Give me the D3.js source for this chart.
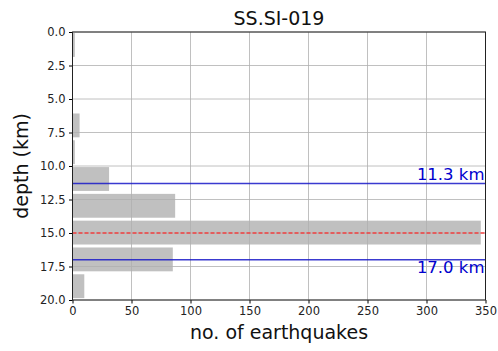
<!DOCTYPE html>
<html>
<head>
<meta charset="utf-8">
<script src="https://cdn.jsdelivr.net/npm/d3@7"></script>
<style>
  body { margin: 0; background: #fff; }
  svg { display: block; font-family: "DejaVu Sans", sans-serif; }
</style>
</head>
<body>
<div id="chart"></div>
<script>
// depth histogram, 2 km bins
const binStarts = [0, 2, 4, 6, 8, 10, 12, 14, 16, 18];
const counts = [2, 0, 0, 6, 2, 31, 87, 346, 85, 10];
const binWidth = 2;

const meanDepth = 15.0;
const boundDepths = [11.3, 17.0];
const boundLabels = ['11.3 km', '17.0 km'];

const xTicks = [0, 50, 100, 150, 200, 250, 300, 350];
const yTicks = [0, 2.5, 5, 7.5, 10, 12.5, 15, 17.5, 20];

const W = 498, H = 351;
const m = { left: 72.5, right: 485.5, top: 32, bottom: 300 };

const svg = d3.select('#chart').append('svg')
  .attr('width', W).attr('height', H);

const x = d3.scaleLinear().domain([0, 350]).range([m.left, m.right]);
const y = d3.scaleLinear().domain([0, 20]).range([m.top, m.bottom]);

svg.append('clipPath').attr('id', 'plot')
  .append('rect')
  .attr('x', m.left).attr('y', m.top)
  .attr('width', m.right - m.left).attr('height', m.bottom - m.top);

// bars
svg.append('g').attr('clip-path', 'url(#plot)')
  .selectAll('rect')
  .data(binStarts.map((s, i) => ({ s, c: counts[i] })))
  .join('rect')
  .attr('x', x(0))
  .attr('y', d => y(d.s + 0.08))
  .attr('width', d => x(d.c) - x(0))
  .attr('height', d => y(d.s + binWidth - 0.14) - y(d.s + 0.08))
  .attr('fill', '#c0c0c0');

// grid (on top of bars)
const grid = svg.append('g').attr('stroke', '#b0b0b0').attr('stroke-width', 0.8);
grid.selectAll('.gx').data(xTicks).join('line')
  .attr('x1', d => x(d)).attr('x2', d => x(d))
  .attr('y1', m.top).attr('y2', m.bottom);
grid.selectAll('.gy').data(yTicks).join('line')
  .attr('x1', m.left).attr('x2', m.right)
  .attr('y1', d => y(d)).attr('y2', d => y(d));

// mean line
svg.append('line')
  .attr('x1', m.left).attr('x2', m.right)
  .attr('y1', y(meanDepth)).attr('y2', y(meanDepth))
  .attr('stroke', '#ff2020').attr('stroke-width', 1.4)
  .attr('stroke-opacity', 0.8)
  .attr('stroke-dasharray', '4,2');

// bound lines + labels
boundDepths.forEach((d, i) => {
  svg.append('line')
    .attr('x1', m.left).attr('x2', m.right)
    .attr('y1', y(d)).attr('y2', y(d))
    .attr('stroke', '#1818c8').attr('stroke-width', 1.5)
    .attr('stroke-opacity', 0.85);
  svg.append('text')
    .attr('x', m.right - 1)
    .attr('y', i === 0 ? y(d) - 3 : y(d) + 13)
    .attr('text-anchor', 'end')
    .attr('font-size', 16.5)
    .attr('fill', '#0000cd')
    .text(boundLabels[i]);
});

// axes
const xAxis = d3.axisBottom(x).tickValues(xTicks).tickSize(3.5).tickPadding(3.5)
  .tickFormat(d3.format('d'));
const yAxis = d3.axisLeft(y).tickValues(yTicks).tickSize(3.5).tickPadding(3.5)
  .tickFormat(d3.format('.1f'));

svg.append('g').attr('transform', `translate(0,${m.bottom})`).call(xAxis)
  .call(g => g.select('.domain').remove())
  .call(g => g.selectAll('text').attr('font-size', 11.5).attr('fill', '#222')
    .attr('font-family', '"DejaVu Sans", sans-serif'));
svg.append('g').attr('transform', `translate(${m.left},0)`).call(yAxis)
  .call(g => g.select('.domain').remove())
  .call(g => g.selectAll('text').attr('font-size', 11.5).attr('fill', '#222')
    .attr('font-family', '"DejaVu Sans", sans-serif'));

// frame
svg.append('rect')
  .attr('x', m.left).attr('y', m.top)
  .attr('width', m.right - m.left).attr('height', m.bottom - m.top)
  .attr('fill', 'none').attr('stroke', '#222').attr('stroke-width', 1);

// titles
svg.append('text')
  .attr('x', (m.left + m.right) / 2).attr('y', 25)
  .attr('text-anchor', 'middle').attr('font-size', 19).attr('fill', '#111')
  .text('SS.SI-019');
svg.append('text')
  .attr('x', (m.left + m.right) / 2).attr('y', 339)
  .attr('text-anchor', 'middle').attr('font-size', 19).attr('fill', '#111')
  .text('no. of earthquakes');
svg.append('text')
  .attr('transform', `translate(28,${(m.top + m.bottom) / 2}) rotate(-90)`)
  .attr('text-anchor', 'middle').attr('font-size', 19).attr('fill', '#111')
  .text('depth (km)');
</script>
</body>
</html>
